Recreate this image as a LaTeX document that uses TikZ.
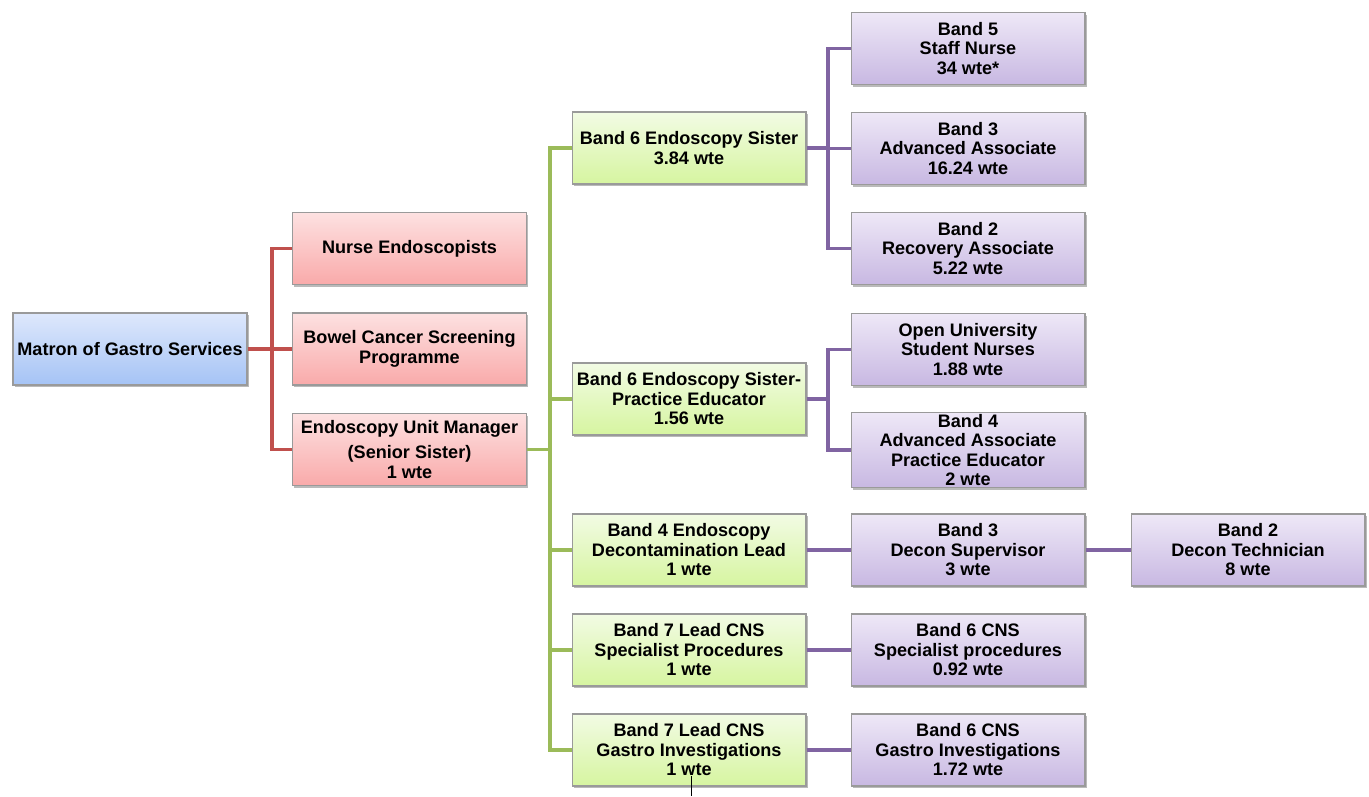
\documentclass[tikz,border=0pt]{standalone}
\usepackage{fontspec}
\setmainfont{Liberation Sans}
\usetikzlibrary{shadows}
\definecolor{lnred}{HTML}{C0504D}
\definecolor{lngreen}{HTML}{9BBB59}
\definecolor{lnpurple}{HTML}{8064A2}
\definecolor{bordergray}{HTML}{9A9A9A}
\tikzset{
  box/.style={draw=bordergray, line width=0.6pt, minimum width=4.68cm, minimum height=1.44cm,
    inner sep=1pt, align=center, font=\fontsize{10.3}{11.1}\selectfont\bfseries,
    drop shadow={shadow xshift=0.9pt, shadow yshift=-1.3pt, fill=black!45, opacity=0.6}},
  bluebox/.style={box, bottom color={rgb,255:red,165;green,195;blue,245}, top color={rgb,255:red,222;green,232;blue,252}},
  redbox/.style={box, top color={rgb,255:red,253;green,225;blue,225}, bottom color={rgb,255:red,249;green,170;blue,170}},
  greenbox/.style={box, top color={rgb,255:red,242;green,251;blue,228}, bottom color={rgb,255:red,214;green,245;blue,160}},
  purplebox/.style={box, top color={rgb,255:red,238;green,232;blue,247}, bottom color={rgb,255:red,200;green,184;blue,226}},
  redline/.style={draw=lnred, line width=2.1pt},
  greenline/.style={draw=lngreen, line width=2.1pt},
  purpleline/.style={draw=lnpurple, line width=2.1pt},
}
\begin{document}
\begin{tikzpicture}[x=0.02cm, y=-0.02cm]
\useasboundingbox (0,0) rectangle (1369,796);
\fill[white] (0,0) rectangle (1369,796);

% connectors (drawn first, boxes on top)
\coordinate (rb) at (272,349);
\coordinate (gb) at (550,449.5);
\coordinate (pb1) at (828,148);
\coordinate (pb2) at (828,399);

% level 0
\node[bluebox] (matron) at (130,349) {Matron of Gastro Services};
% level 1
\node[redbox] (nurse) at (409.5,248.5) {Nurse Endoscopists};
\node[redbox] (bowel) at (409.5,349) {Bowel Cancer Screening\\Programme};
\node[redbox] (eum) at (409.5,449.5) {Endoscopy Unit Manager\\[3pt](Senior Sister)\\1 wte};
% level 2
\node[greenbox] (sister) at (689,148) {Band 6 Endoscopy Sister\\3.84 wte};
\node[greenbox] (pe) at (689,399) {Band 6 Endoscopy Sister-\\Practice Educator\\1.56 wte};
\node[greenbox] (decon) at (689,550) {Band 4 Endoscopy\\Decontamination Lead\\1 wte};
\node[greenbox] (cnssp) at (689,650) {Band 7 Lead CNS\\Specialist Procedures\\1 wte};
\node[greenbox] (cnsgi) at (689,750) {Band 7 Lead CNS\\Gastro Investigations\\1 wte};
% level 3
\node[purplebox] (b5) at (968,48.5) {Band 5\\Staff Nurse\\34 wte*};
\node[purplebox] (b3aa) at (968,148.5) {Band 3\\Advanced Associate\\16.24 wte};
\node[purplebox] (b2ra) at (968,248.5) {Band 2\\Recovery Associate\\5.22 wte};
\node[purplebox] (ou) at (968,349.5) {Open University\\Student Nurses\\1.88 wte};
\node[purplebox] (b4pe) at (968,450) {Band 4\\Advanced Associate\\Practice Educator\\2 wte};
\node[purplebox] (b3ds) at (968,550) {Band 3\\Decon Supervisor\\3 wte};
\node[purplebox] (b6sp) at (968,650) {Band 6 CNS\\Specialist procedures\\0.92 wte};
\node[purplebox] (b6gi) at (968,750) {Band 6 CNS\\Gastro Investigations\\1.72 wte};
% level 4
\node[purplebox] (b2dt) at (1248,550) {Band 2\\Decon Technician\\8 wte};

% connectors
\draw[redline] (matron.east) -- (rb) |- (nurse.west);
\draw[redline] (rb) |- (eum.west);
\draw[redline] (rb) -- (bowel.west);

\draw[greenline] (eum.east) -- (gb) |- (sister.west);
\draw[greenline] (gb) |- (cnsgi.west);
\draw[greenline] (gb) |- (pe.west);
\draw[greenline] (gb) |- (decon.west);
\draw[greenline] (gb) |- (cnssp.west);

\draw[purpleline] (sister.east) -- (pb1) |- (b5.west);
\draw[purpleline] (pb1) |- (b2ra.west);
\draw[purpleline] (pb1) |- (b3aa.west);

\draw[purpleline] (pe.east) -- (pb2) |- (ou.west);
\draw[purpleline] (pb2) |- (b4pe.west);

\draw[purpleline] (decon.east) -- (b3ds.west);
\draw[purpleline] (b3ds.east) -- (b2dt.west);
\draw[purpleline] (cnssp.east) -- (b6sp.west);
\draw[purpleline] (cnsgi.east) -- (b6gi.west);

% stray mark
\coordinate (mk) at (691,776);
\draw[black, line width=0.5pt] (mk) -- ++(0,20);
\end{tikzpicture}
\end{document}
